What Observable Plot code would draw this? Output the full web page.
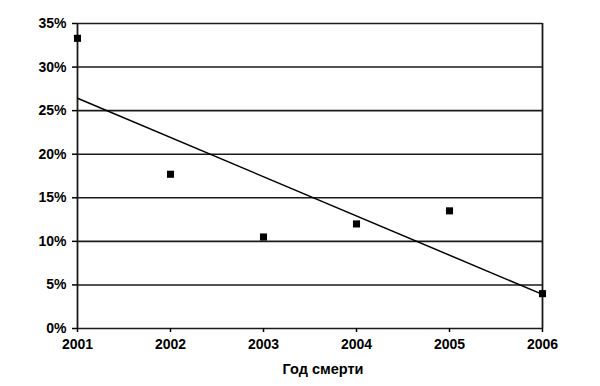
<!DOCTYPE html>
<html>
<head>
<meta charset="utf-8">
<script src="https://cdn.jsdelivr.net/npm/d3@7"></script>
<script src="https://cdn.jsdelivr.net/npm/@observablehq/plot@0.6"></script>
<style>
  html, body { margin: 0; padding: 0; background: #fff; }
</style>
</head>
<body>
<div id="chart"></div>
<script>
const years = [2001, 2002, 2003, 2004, 2005, 2006];
const shares = [0.333, 0.177, 0.105, 0.120, 0.135, 0.040];
const yTicks = [0, 0.05, 0.10, 0.15, 0.20, 0.25, 0.30, 0.35];
const xLabel = "Год смерти";

const data = years.map((year, i) => ({year, share: shares[i]}));

const chart = Plot.plot({
  width: 600,
  height: 386,
  marginLeft: 77,
  marginRight: 58,
  marginTop: 23,
  marginBottom: 58,
  style: {
    fontFamily: "'Liberation Sans', Arial, sans-serif",
    fontSize: "14px",
    fontWeight: "bold",
    color: "#000",
    background: "#fff"
  },
  x: {domain: [2001, 2006]},
  y: {domain: [0, 0.35]},
  marks: [
    Plot.ruleY(yTicks, {stroke: "#1a1a1a", strokeWidth: 1.6}),
    Plot.ruleX([2001, 2006], {stroke: "#1a1a1a", strokeWidth: 1.8}),
    Plot.axisY({ticks: yTicks, tickFormat: d => Math.round(d * 100) + "%", tickSize: 5, tickPadding: 6, label: null, strokeWidth: 1.5}),
    Plot.axisX({ticks: years, tickFormat: d => String(d), tickSize: 4, tickPadding: 7, label: null, strokeWidth: 1.5}),
    Plot.linearRegressionY(data, {x: "year", y: "share", ci: 0, stroke: "#000", strokeWidth: 1.5}),
    Plot.dot(data, {x: "year", y: "share", symbol: "square", fill: "#000", r: 4}),
    Plot.text([xLabel], {text: d => d, frameAnchor: "bottom", dy: 45, dx: 13, fontSize: 14.5, fontWeight: "bold"})
  ]
});

document.getElementById("chart").appendChild(chart);
</script>
</body>
</html>
